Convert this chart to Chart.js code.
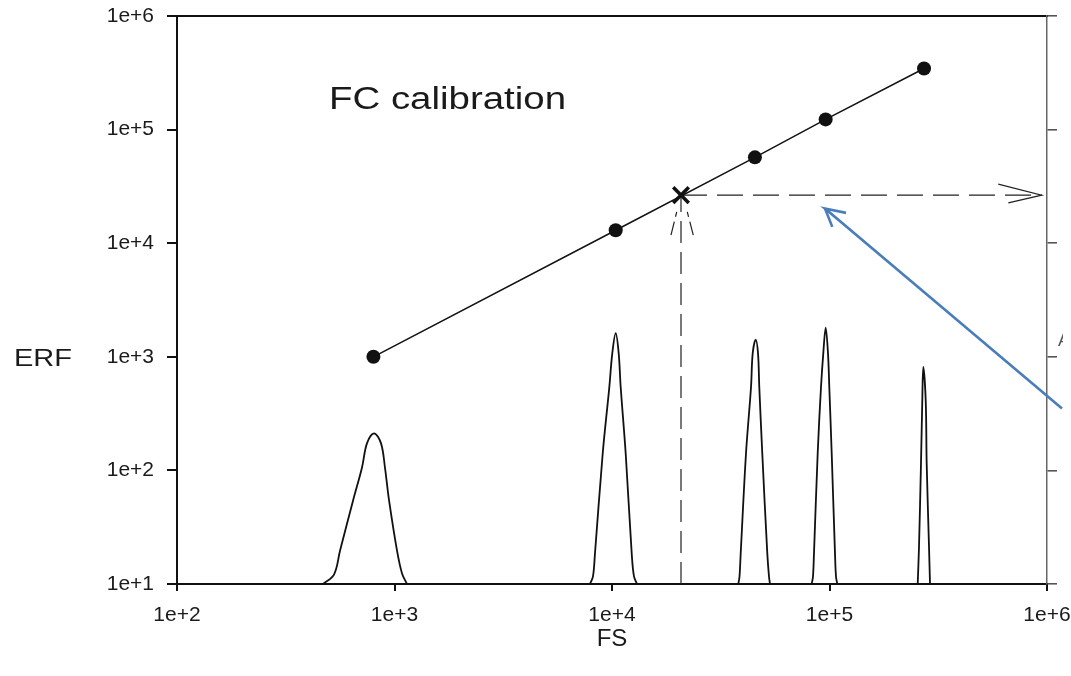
<!DOCTYPE html>
<html>
<head>
<meta charset="utf-8">
<script src="https://cdn.jsdelivr.net/npm/chart.js@4.4.1/dist/chart.umd.min.js"></script>
<style>
  html, body { margin: 0; padding: 0; background: #fff; }
</style>
</head>
<body>
<canvas id="chart" width="1071" height="676"></canvas>
<script>
// ======================= DATA ==========================
const xTicks = [1e2, 1e3, 1e4, 1e5, 1e6];
const xTickLabels = ['1e+2', '1e+3', '1e+4', '1e+5', '1e+6'];
const yTicks = [1e1, 1e2, 1e3, 1e4, 1e5, 1e6];
const yTickLabels = ['1e+1', '1e+2', '1e+3', '1e+4', '1e+5', '1e+6'];

// calibration beads (FS -> ERF)
const calFS  = [800, 10400, 45400, 96000, 272000];
const calERF = [1000, 13000, 57000, 123000, 345000];

// sample
const sampleFS  = [20760];
const sampleERF = [26500];

// bead histograms, drawn on the same log axes
const peakFS = [
    [469, 527, 562, 645, 709, 747, 805, 867, 904, 944, 1027, 1083, 1141],
    [7923, 8177, 8352, 9063, 9718, 10030, 10400, 10735, 10965, 11560, 12320, 12620, 13030],
    [38080, 38570, 39060, 41310, 43560, 44350, 45780, 46920, 47560, 49090, 51760, 52700, 53260],
    [82830, 83960, 84850, 88240, 91380, 93630, 96050, 98420, 99790, 102360, 105990, 107120, 108600],
    [254400, 257900, 263400, 267100, 269900, 276900, 279800, 286800, 289800]
];
const peakH = [
    [10, 12.1, 19.7, 54.4, 106, 173, 212, 173, 106, 54.4, 19.7, 12.4, 10],
    [10, 11.65, 18.6, 141, 539, 1073, 1611, 1073, 539, 141, 18.6, 11.65, 10],
    [10, 11.65, 18.6, 141, 539, 1073, 1418, 1073, 539, 141, 18.6, 11.65, 10],
    [10, 11.65, 18.6, 141, 539, 1073, 1808, 1073, 539, 141, 18.6, 11.65, 10],
    [10, 21.1, 114.6, 414, 813, 414, 114.6, 21.1, 10]
];

// dashed read-off lines
const vLineFS  = [20760, 20760];
const vLineERF = [10, 26500];
const hLineFS  = [20760, 945000];
const hLineERF = [26500, 26500];

// arrow heads
const upWingLFS = [18670, 19840], upWingLERF = [11760, 18870];
const upWingRFS = [23640, 22190], upWingRERF = [11760, 18870];
const rightHeadFS  = [597000, 945500, 664000];
const rightHeadERF = [33100, 26500, 22650];

// blue pointer
const blueShaftFS  = [119100, 95350, 1172000];
const blueShaftERF = [18490, 20220, 350];
const blueWingFS   = [95350, 103000];
const blueWingERF  = [20220, 13920];

// ======================= HELPERS ==========================
const pts = (xs, ys) => xs.map((x, i) => ({x: x, y: ys[i]}));

function lineSet(xs, ys, extra) {
    return Object.assign({
        data: pts(xs, ys),
        showLine: true,
        pointRadius: 0,
        borderColor: '#111',
        borderWidth: 1.6,
        fill: false
    }, extra || {});
}

const FONT = 'Liberation Sans';

// keep the frame where it is: no extra room for overhanging labels
function noPad(s) {
    s.paddingLeft = 0; s.paddingRight = 0;
    s.paddingTop = 0; s.paddingBottom = 0;
}

// ======================= TEXT NOTES ==========================
function stretchText(ctx, text, x, y, size, width) {
    ctx.font = size + 'px "' + FONT + '"';
    const w = ctx.measureText(text).width;
    ctx.save();
    ctx.translate(x, y);
    ctx.scale(width / w, 1);
    ctx.fillText(text, 0, 0);
    ctx.restore();
}

const notes = {
    id: 'notes',
    afterDraw(chart) {
        const ctx = chart.ctx;
        ctx.save();
        ctx.fillStyle = '#1a1a1a';
        ctx.textBaseline = 'alphabetic';
        ctx.textAlign = 'left';
        stretchText(ctx, 'FC calibration', 329, 109, 31, 237);
        stretchText(ctx, 'ERF', 14, 366, 24, 58);
        // label cut off at right edge
        ctx.beginPath();
        ctx.rect(1050, 320, 13, 40);
        ctx.clip();
        ctx.fillStyle = '#555';
        ctx.font = '18px "' + FONT + '"';
        ctx.fillText('A', 1058, 346);
        ctx.restore();
    }
};

// ======================= CHART ==========================
const datasets = [
    lineSet(sampleFS, sampleERF, {
        showLine: false, pointStyle: 'crossRot', pointRadius: 11,
        pointBorderWidth: 3.5, pointBorderColor: '#111'
    }),
    lineSet(calFS, calERF, {
        pointRadius: 7, pointBackgroundColor: '#111', pointBorderWidth: 0, borderWidth: 1.5
    }),
    lineSet(blueShaftFS, blueShaftERF, {borderColor: '#4a7ebb', borderWidth: 2.6, clip: false}),
    lineSet(blueWingFS, blueWingERF, {borderColor: '#4a7ebb', borderWidth: 2.6, clip: false}),
    lineSet(vLineFS, vLineERF, {borderColor: '#222', borderWidth: 1.2, borderDash: [22, 9]}),
    lineSet(hLineFS, hLineERF, {borderColor: '#222', borderWidth: 1.2, borderDash: [26, 10]}),
    lineSet(upWingLFS, upWingLERF, {borderColor: '#222', borderWidth: 1.2, borderDash: [14, 5]}),
    lineSet(upWingRFS, upWingRERF, {borderColor: '#222', borderWidth: 1.2, borderDash: [14, 5]}),
    lineSet(rightHeadFS, rightHeadERF, {borderColor: '#222', borderWidth: 1.2})
];

peakFS.forEach((xs, i) => {
    datasets.push(lineSet(xs, peakH[i], {borderWidth: 1.8, tension: 0.35}));
});

const tickFont = {family: FONT, size: 21};

new Chart(document.getElementById('chart'), {
    type: 'scatter',
    data: {datasets: datasets},
    plugins: [notes],
    options: {
        responsive: false,
        animation: false,
        layout: {padding: 0},
        plugins: {legend: {display: false}, tooltip: {enabled: false}},
        scales: {
            x: {
                type: 'logarithmic', position: 'bottom', min: 1e2, max: 1e6,
                afterBuildTicks: s => { s.ticks = xTicks.map(v => ({value: v})); },
                afterFit: s => { s.height = 92; noPad(s); },
                ticks: {
                    callback: (v, i) => xTickLabels[i],
                    font: tickFont, color: '#1a1a1a', padding: 12,
                    maxRotation: 0, autoSkip: false
                },
                grid: {drawOnChartArea: false, tickLength: 7, tickColor: '#111', lineWidth: 2},
                border: {color: '#111', width: 2},
                title: {
                    display: true, text: 'FS', color: '#1a1a1a',
                    font: {family: FONT, size: 24}, padding: {top: 0, bottom: 22}
                }
            },
            x2: {
                type: 'logarithmic', position: 'top', min: 1e2, max: 1e6,
                afterFit: s => { s.height = 16; noPad(s); },
                ticks: {display: false},
                grid: {display: false},
                border: {color: '#111', width: 2}
            },
            y: {
                type: 'logarithmic', position: 'left', min: 1e1, max: 1e6,
                afterBuildTicks: s => { s.ticks = yTicks.map(v => ({value: v})); },
                afterFit: s => { s.width = 177; noPad(s); },
                ticks: {
                    callback: (v, i) => yTickLabels[i],
                    font: tickFont, color: '#1a1a1a', padding: 13, autoSkip: false
                },
                grid: {drawOnChartArea: false, tickLength: 10, tickColor: '#111', lineWidth: 2},
                border: {color: '#111', width: 2}
            },
            y2: {
                type: 'logarithmic', position: 'right', min: 1e1, max: 1e6,
                afterBuildTicks: s => { s.ticks = yTicks.map(v => ({value: v})); },
                afterFit: s => { s.width = 24; noPad(s); },
                ticks: {display: false},
                grid: {drawOnChartArea: false, tickLength: 10, tickColor: '#555', lineWidth: 1.6},
                border: {color: '#666', width: 1.5}
            }
        }
    }
});
</script>
</body>
</html>
